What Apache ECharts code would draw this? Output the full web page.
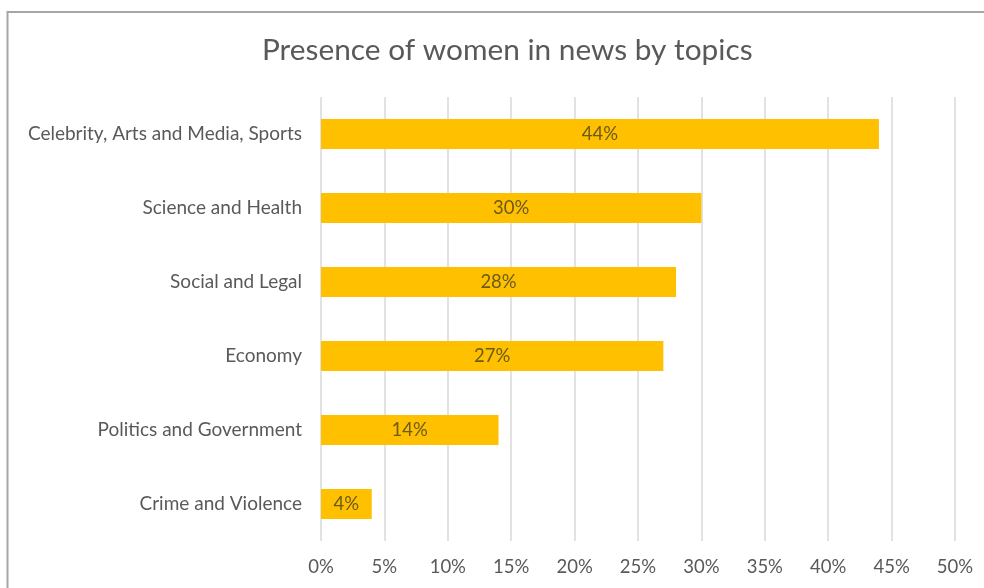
<!DOCTYPE html>
<html>
<head>
<meta charset="utf-8">
<script src="https://cdn.jsdelivr.net/npm/echarts@6/dist/echarts.min.js"></script>
<style>
  html, body { margin: 0; padding: 0; background: #ffffff; }
  #chart { width: 984px; height: 588px; }
</style>
</head>
<body>
<div id="chart"></div>
<script>
// Topics, top to bottom
const topics = [
  'Celebrity, Arts and Media, Sports',
  'Science and Health',
  'Social and Legal',
  'Economy',
  'Politics and Government',
  'Crime and Violence'
];
// Share of women (%) per topic
const shares = [44, 30, 28, 27, 14, 4];
// Value axis range and step (%)
const axisMin = 0;
const axisMax = 50;
const axisStep = 5;

const font = 'Lato, "Open Sans", "Noto Sans", sans-serif';
const textGrey = '#595959';

const chart = echarts.init(document.getElementById('chart'), null, { renderer: 'canvas' });
chart.setOption({
  backgroundColor: '#ffffff',
  animation: false,
  title: {
    text: 'Presence of women in news by topics',
    left: 257,
    top: 30,
    textStyle: { fontFamily: font, fontSize: 29.8, fontWeight: 'normal', color: textGrey }
  },
  graphic: [
    { type: 'line', shape: { x1: 7.5, y1: 11, x2: 7.5, y2: 588 }, style: { stroke: '#a6a6a6', lineWidth: 2 } },
    { type: 'line', shape: { x1: 7, y1: 12, x2: 984, y2: 12 }, style: { stroke: '#a6a6a6', lineWidth: 2 } }
  ],
  grid: { left: 321, right: 29, top: 97, bottom: 47, containLabel: false },
  xAxis: {
    type: 'value',
    min: axisMin,
    max: axisMax,
    interval: axisStep,
    axisLine: { show: false },
    axisTick: { show: false },
    splitLine: { show: true, lineStyle: { color: '#d9d9d9', width: 1.5 } },
    axisLabel: {
      formatter: '{value}%',
      margin: 17,
      fontFamily: font,
      fontSize: 18.5,
      color: textGrey
    }
  },
  yAxis: {
    type: 'category',
    data: topics,
    inverse: true,
    axisLine: { show: false },
    axisTick: { show: false },
    axisLabel: { margin: 19, fontFamily: font, fontSize: 19, color: textGrey }
  },
  series: [{
    type: 'bar',
    data: shares,
    barWidth: 30,
    itemStyle: { color: '#ffc000' },
    label: {
      show: true,
      position: 'inside',
      formatter: '{c}%',
      fontFamily: font,
      fontSize: 18.5,
      color: '#6b5a1a'
    }
  }]
});
</script>
</body>
</html>
